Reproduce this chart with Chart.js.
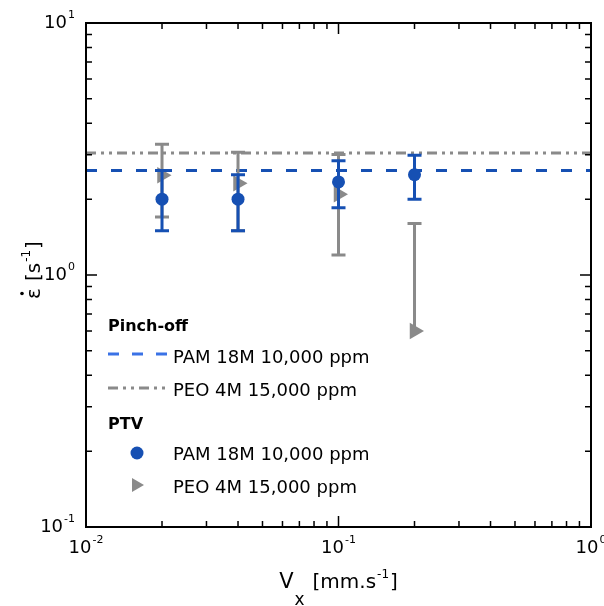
<!DOCTYPE html>
<html><head><meta charset="utf-8">
<script src="https://cdn.jsdelivr.net/npm/chart.js@4.4.1/dist/chart.umd.min.js"></script>
<style>html,body{margin:0;padding:0;background:#fff}#wrap{width:604px;height:606px}</style>
</head><body><div id="wrap"><canvas id="c" width="604" height="606"></canvas></div>
<script>
// ---- data ----
const xValues = [0.02, 0.04, 0.1, 0.2];
const pamY    = [2.0, 2.0, 2.34, 2.5];
const pamLow  = [1.5, 1.5, 1.85, 2.0];
const pamHigh = [2.6, 2.5, 2.84, 2.99];
const peoY    = [2.49, 2.31, 2.09, 0.6];
const peoLow  = [1.7, 1.5, 1.2, 0.6];
const peoHigh = [3.3, 3.07, 3.01, 1.6];
const pinchPAM = 2.6;
const pinchPEO = 3.05;
const xRange = [0.01, 1];
const yRange = [0.1, 10];
const xTickExps = [-2, -1, 0];
const yTickExps = [-1, 0, 1];
const seriesNames = ['PAM 18M 10,000 ppm', 'PEO 4M 15,000 ppm'];
const groupNames = ['Pinch-off', 'PTV'];

const BLUE = '#1650b3';
const BLUE_L = '#3a72e6';
const GREY = '#8a8a8a';
const FONT = '"DejaVu Sans", sans-serif';

function pts(ys) { return xValues.map((x, i) => ({x: x, y: ys[i]})); }
function hline(v) { return [{x: xRange[0], y: v}, {x: xRange[1], y: v}]; }

const errorBars = {
  id: 'errorBars',
  beforeDatasetDraw(chart, args) {
    const ds = chart.data.datasets[args.index];
    if (!ds.errLow) return;
    const ctx = chart.ctx, xs = chart.scales.x, ys = chart.scales.y;
    ctx.save();
    ctx.strokeStyle = ds.errColor;
    ctx.lineWidth = 3;
    ctx.lineCap = 'butt';
    ds.data.forEach((p, i) => {
      const px = xs.getPixelForValue(p.x);
      const lo = ys.getPixelForValue(ds.errLow[i]);
      const hi = ys.getPixelForValue(ds.errHigh[i]);
      ctx.beginPath();
      ctx.moveTo(px, lo); ctx.lineTo(px, hi);
      ctx.moveTo(px - 7, hi); ctx.lineTo(px + 7, hi);
      if (ds.errLow[i] < p.y) { ctx.moveTo(px - 7, lo); ctx.lineTo(px + 7, lo); }
      ctx.stroke();
    });
    ctx.restore();
  }
};

function drawPow(ctx, exp, x, y, align, size) {
  ctx.font = size + 'px ' + FONT;
  const wb = ctx.measureText('10').width;
  const sup = Math.round(size * 0.62);
  ctx.font = sup + 'px ' + FONT;
  const we = ctx.measureText(exp).width;
  const total = wb + 1 + we;
  let left = align === 'center' ? x - total / 2 : (align === 'right' ? x - total : x);
  ctx.textBaseline = 'middle';
  ctx.textAlign = 'left';
  ctx.font = size + 'px ' + FONT;
  ctx.fillText('10', left, y);
  ctx.font = sup + 'px ' + FONT;
  ctx.fillText(exp, left + wb + 1, y - size * 0.45);
}

const frame = {
  id: 'frame',
  afterDraw(chart) {
    const ctx = chart.ctx, a = chart.chartArea, xs = chart.scales.x, ys = chart.scales.y;
    ctx.save();
    ctx.fillStyle = '#000';
    ctx.strokeStyle = '#000';
    ctx.lineWidth = 1.5;
    ctx.beginPath();
    for (let e = -2; e <= 1; e++) {
      for (let m = 1; m <= 9; m++) {
        const v = m * Math.pow(10, e);
        const len = m === 1 ? 11 : 6;
        if (v > xRange[0] * 1.0001 && v < xRange[1] * 0.9999) {
          const px = xs.getPixelForValue(v);
          ctx.moveTo(px, a.bottom); ctx.lineTo(px, a.bottom - len);
          ctx.moveTo(px, a.top); ctx.lineTo(px, a.top + len);
        }
        if (v > yRange[0] * 1.0001 && v < yRange[1] * 0.9999) {
          const py = ys.getPixelForValue(v);
          ctx.moveTo(a.left, py); ctx.lineTo(a.left + len, py);
          ctx.moveTo(a.right, py); ctx.lineTo(a.right - len, py);
        }
      }
    }
    ctx.stroke();
    ctx.lineWidth = 2;
    ctx.strokeRect(a.left, a.top, a.right - a.left, a.bottom - a.top);

    xTickExps.forEach(e => drawPow(ctx, String(e), xs.getPixelForValue(Math.pow(10, e)), a.bottom + 21, 'center', 18));
    yTickExps.forEach(e => drawPow(ctx, String(e), a.left - 11, ys.getPixelForValue(Math.pow(10, e)), 'right', 18));

    // x title: V_x [mm.s^-1]
    const tsz = 20;
    ctx.textBaseline = 'alphabetic';
    ctx.textAlign = 'left';
    const parts = [
      {t: 'V', s: 21, dy: 0, gap: 1},
      {t: 'x', s: 17, dy: 17, gap: 8},
      {t: '[mm.s', s: tsz, dy: 0, gap: 1},
      {t: '-1', s: 12, dy: -10, gap: 1},
      {t: ']', s: tsz, dy: 0, gap: 0}
    ];
    let tw = 0;
    parts.forEach(p => { ctx.font = p.s + 'px ' + FONT; p.w = ctx.measureText(p.t).width; tw += p.w + p.gap; });
    let cx = (a.left + a.right) / 2 - tw / 2;
    const base = 588;
    parts.forEach(p => { ctx.font = p.s + 'px ' + FONT; ctx.fillText(p.t, cx, base + p.dy); cx += p.w + p.gap; });

    // y title
    ctx.save();
    ctx.translate(40, 270);
    ctx.rotate(-Math.PI / 2);
    const yp = [
      {t: '\u03B5', s: 20, dy: 0, gap: 7},
      {t: '[s', s: 20, dy: 0, gap: 1},
      {t: '-1', s: 12, dy: -10, gap: 1},
      {t: ']', s: 20, dy: 0, gap: 0}
    ];
    let yw = 0;
    yp.forEach(p => { ctx.font = p.s + 'px ' + FONT; p.w = ctx.measureText(p.t).width; yw += p.w + p.gap; });
    let ux = -yw / 2;
    yp.forEach((p, i) => {
      ctx.font = p.s + 'px ' + FONT;
      ctx.fillText(p.t, ux, p.dy);
      if (i === 0) { ctx.beginPath(); ctx.arc(ux + p.w / 2, -18, 1.8, 0, Math.PI * 2); ctx.fill(); }
      ux += p.w + p.gap;
    });
    ctx.restore();

    // legend
    ctx.textBaseline = 'alphabetic';
    ctx.font = 'bold 16px ' + FONT;
    ctx.fillStyle = '#000';
    ctx.fillText(groupNames[0], 108, 331);
    ctx.fillText(groupNames[1], 108, 429);
    ctx.font = '18px ' + FONT;
    ctx.fillText(seriesNames[0], 173, 363);
    ctx.fillText(seriesNames[1], 173, 396);
    ctx.fillText(seriesNames[0], 173, 460);
    ctx.fillText(seriesNames[1], 173, 493);
    ctx.lineWidth = 3;
    ctx.strokeStyle = BLUE_L;
    ctx.setLineDash([11, 13]);
    ctx.beginPath(); ctx.moveTo(108, 354); ctx.lineTo(168, 354); ctx.stroke();
    ctx.strokeStyle = GREY;
    ctx.setLineDash([10, 5, 3, 5, 3, 5]);
    ctx.beginPath(); ctx.moveTo(108, 388); ctx.lineTo(168, 388); ctx.stroke();
    ctx.setLineDash([]);
    ctx.fillStyle = BLUE;
    ctx.beginPath(); ctx.arc(137, 453, 6.5, 0, Math.PI * 2); ctx.fill();
    ctx.fillStyle = GREY;
    const r = 8, tx = 136, ty = 485;
    ctx.beginPath();
    ctx.moveTo(tx + r, ty);
    ctx.lineTo(tx - r / 2, ty + r * 0.866);
    ctx.lineTo(tx - r / 2, ty - r * 0.866);
    ctx.closePath(); ctx.fill();
    ctx.restore();
  }
};

new Chart(document.getElementById('c'), {
  data: {
    datasets: [
      {type: 'line', label: 'Pinch-off ' + seriesNames[0], data: hline(pinchPAM), borderColor: BLUE, borderWidth: 3,
       borderDash: [11, 14], pointRadius: 0, order: 5},
      {type: 'line', label: 'Pinch-off ' + seriesNames[1], data: hline(pinchPEO), borderColor: GREY, borderWidth: 3,
       borderDash: [10, 5, 3, 5, 3, 5], pointRadius: 0, order: 4},
      {type: 'scatter', label: 'PTV ' + seriesNames[1], data: pts(peoY), errLow: peoLow, errHigh: peoHigh, errColor: GREY,
       pointStyle: 'triangle', rotation: 90, pointRadius: 9.5, backgroundColor: GREY, borderWidth: 0, order: 3},
      {type: 'scatter', label: 'PTV ' + seriesNames[0], data: pts(pamY), errLow: pamLow, errHigh: pamHigh, errColor: BLUE,
       pointStyle: 'circle', pointRadius: 6.5, backgroundColor: BLUE, borderWidth: 0, order: 2}
    ]
  },
  options: {
    responsive: false, animation: false, devicePixelRatio: 1,
    layout: {padding: {left: 86, right: 13, top: 23, bottom: 79}},
    plugins: {legend: {display: false}, tooltip: {enabled: false}},
    scales: {
      x: {type: 'logarithmic', display: false, min: xRange[0], max: xRange[1]},
      y: {type: 'logarithmic', display: false, min: yRange[0], max: yRange[1]}
    }
  },
  plugins: [errorBars, frame]
});
</script>
</body></html>
